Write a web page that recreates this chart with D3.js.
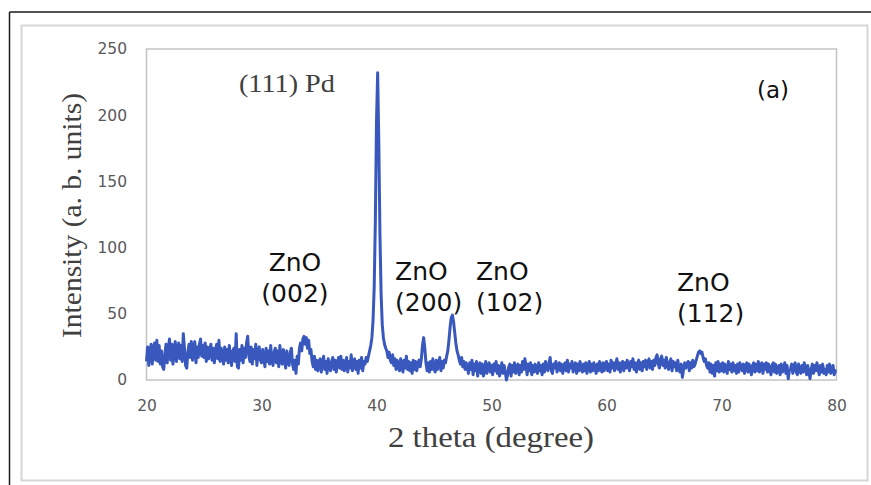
<!DOCTYPE html>
<html>
<head>
<meta charset="utf-8">
<script src="https://cdn.jsdelivr.net/npm/d3@7"></script>
<style>
  html, body { margin: 0; padding: 0; background: #fff; }
  svg { display: block; }
</style>
</head>
<body>
<svg id="chart" width="871" height="485"></svg>
<script>
// XRD scan: 2θ from 20° to 80° in 0.1° steps
const thetaStart = 20;
const thetaStep = 0.1;
const intensity = [
  14, 25, 11, 21, 27, 12, 23, 28, 15, 30,
  14, 26, 12, 22, 10, 8, 20, 27, 13, 24,
  31, 15, 27, 12, 24, 29, 14, 22, 28, 16,
  26, 14, 35, 24, 11, 9, 21, 27, 17, 29,
  15, 24, 29, 13, 25, 17, 27, 31, 18, 26,
  17, 28, 14, 25, 16, 23, 27, 15, 24, 13,
  23, 27, 16, 30, 14, 24, 18, 12, 25, 15,
  23, 13, 26, 17, 11, 22, 24, 14, 35, 10,
  9, 23, 15, 26, 13, 24, 17, 28, 33, 18,
  14, 25, 12, 23, 16, 27, 11, 22, 25, 15,
  13, 23, 17, 10, 24, 14, 22, 12, 26, 15,
  11, 21, 24, 13, 22, 10, 26, 14, 12, 23,
  16, 9, 22, 13, 11, 21, 24, 12, 8, 15,
  5, 18, 12, 24, 28, 22, 31, 33, 27, 32,
  24, 30, 20, 23, 14, 10, 18, 8, 15, 7,
  14, 16, 6, 13, 18, 8, 14, 5, 16, 10,
  7, 14, 17, 8, 15, 6, 13, 17, 9, 18,
  8, 15, 7, 13, 17, 6, 14, 9, 19, 7,
  13, 16, 8, 14, 5, 15, 9, 17, 7, 14,
  12, 17, 14, 18, 22, 26, 32, 45, 70, 120,
  195, 232, 180, 110, 65, 42, 32, 27, 24, 22,
  17, 21, 15, 13, 19, 11, 16, 8, 15, 10,
  7, 16, 11, 6, 15, 9, 18, 8, 14, 7,
  13, 5, 15, 8, 14, 7, 12, 15, 10, 16,
  26, 32, 24, 13, 7, 13, 6, 14, 8, 16,
  9, 6, 15, 8, 13, 17, 7, 14, 9, 15,
  13, 18, 22, 30, 40, 47, 49, 44, 36, 28,
  22, 19, 15, 12, 17, 10, 14, 8, 13, 9,
  5, 13, 8, 15, 4, 12, 7, 14, 3, 11,
  13, 5, 12, 3, 8, 14, 5, 11, 13, 6,
  11, 4, 12, 7, 14, 5, 11, 3, 8, 13,
  5, 11, 6, 0, 4, 10, 12, 3, 11, 6,
  13, 5, 10, 12, 4, 11, 6, 14, 8, 16,
  11, 4, 12, 7, 13, 4, 11, 6, 12, 7,
  5, 13, 7, 11, 4, 12, 6, 14, 9, 7,
  13, 17, 7, 5, 12, 9, 14, 6, 11, 13,
  7, 12, 5, 11, 13, 7, 15, 6, 12, 9,
  14, 6, 11, 13, 5, 12, 7, 14, 9, 6,
  12, 7, 13, 5, 11, 14, 6, 12, 7, 13,
  9, 5, 12, 7, 14, 9, 6, 13, 7, 12,
  14, 7, 12, 6, 15, 9, 13, 7, 12, 16,
  8, 13, 6, 12, 14, 7, 13, 9, 15, 10,
  7, 14, 10, 16, 8, 13, 6, 12, 15, 8,
  13, 7, 14, 10, 15, 8, 13, 16, 9, 14,
  8, 15, 11, 17, 19, 12, 9, 16, 18, 11,
  15, 9, 17, 12, 8, 13, 16, 7, 14, 10,
  13, 7, 15, 8, 6, 12, 2, 8, 13, 9,
  12, 14, 7, 13, 9, 15, 10, 12, 15, 18,
  21, 22, 20, 21, 17, 14, 16, 11, 9, 13,
  6, 12, 5, 11, 3, 13, 7, 14, 6, 12,
  7, 13, 6, 12, 9, 5, 14, 8, 12, 6,
  13, 7, 11, 5, 12, 6, 13, 9, 7, 12,
  5, 11, 13, 6, 12, 8, 4, 11, 13, 6,
  12, 7, 14, 6, 11, 13, 5, 12, 8, 13,
  6, 12, 8, 4, 11, 13, 6, 12, 5, 9,
  11, 4, 12, 6, 8, 13, 5, 11, 1, 7,
  8, 12, 5, 11, 13, 6, 4, 12, 8, 5,
  11, 6, 13, 8, 4, 11, 6, 1, 8, 12,
  5, 11, 7, 13, 8, 4, 11, 6, 12, 5,
  8, 4, 11, 6, 12, 5, 8, 11, 4, 7,
  7
];

const xTicks = [20, 30, 40, 50, 60, 70, 80];
const yTicks = [0, 50, 100, 150, 200, 250];

// Reflection labels, anchored in data coordinates (2θ, intensity)
const reflectionLines = [["ZnO", "(002)"], ["ZnO", "(200)"], ["ZnO", "(102)"], ["ZnO", "(112)"]];
const reflectionTheta = [32.91, 41.61, 48.65, 66.13];
const reflectionLevel = [82.3, 75.5, 75.5, 67.2];
const reflectionAnchor = ["middle", "start", "start", "start"];

const xTitle = "2 theta (degree)";
const yTitle = "Intensity (a. b. units)";
const peakTitle = "(111) Pd";
const panelTag = "(a)";

const svg = d3.select("#chart");

// page frame
svg.append("line").attr("x1", 9.5).attr("y1", 12).attr("x2", 871).attr("y2", 12)
  .attr("stroke", "#1a1a1a").attr("stroke-width", 1.5);
svg.append("line").attr("x1", 9.5).attr("y1", 12).attr("x2", 9.5).attr("y2", 485)
  .attr("stroke", "#1a1a1a").attr("stroke-width", 1.5);
svg.append("rect").attr("x", 21.5).attr("y", 25.5).attr("width", 846).attr("height", 455)
  .attr("fill", "none").attr("stroke", "#d6d6d6").attr("stroke-width", 2);

const plot = { left: 146.5, right: 836.5, top: 49, bottom: 380 };

const x = d3.scaleLinear().domain([20, 80]).range([plot.left, plot.right]);
const y = d3.scaleLinear().domain([0, 250]).range([plot.bottom, plot.top]);

// plot area border
svg.append("rect")
  .attr("x", plot.left).attr("y", plot.top)
  .attr("width", plot.right - plot.left).attr("height", plot.bottom - plot.top)
  .attr("fill", "none").attr("stroke", "#c4c4c4").attr("stroke-width", 1.5);

// axes (labels only)
const xAxis = svg.append("g")
  .attr("transform", `translate(0,${plot.bottom})`)
  .call(d3.axisBottom(x).tickValues(xTicks).tickSize(0).tickPadding(20).tickFormat(d3.format("d")));
const yAxis = svg.append("g")
  .attr("transform", `translate(${plot.left},0)`)
  .call(d3.axisLeft(y).tickValues(yTicks).tickSize(0).tickPadding(19.5).tickFormat(d3.format("d")));
[xAxis, yAxis].forEach(a => {
  a.select(".domain").remove();
  a.selectAll("text")
    .attr("font-family", "'DejaVu Sans', sans-serif")
    .attr("font-size", 15.5)
    .attr("fill", "#595959");
});

// diffraction pattern
const points = intensity.map((v, i) => [thetaStart + i * thetaStep, v]);
const line = d3.line().x(d => x(d[0])).y(d => y(d[1]));
svg.append("path")
  .datum(points)
  .attr("d", line)
  .attr("fill", "none")
  .attr("stroke", "#3858bd")
  .attr("stroke-width", 3)
  .attr("stroke-linejoin", "round");

// axis titles
svg.append("text")
  .attr("x", 491).attr("y", 447)
  .attr("text-anchor", "middle")
  .attr("font-family", "'Liberation Serif', 'Times New Roman', serif")
  .attr("font-size", 29)
  .attr("fill", "#404040")
  .attr("textLength", 206).attr("lengthAdjust", "spacingAndGlyphs")
  .text(xTitle);

svg.append("text")
  .attr("transform", "translate(81,215.5) rotate(-90)")
  .attr("text-anchor", "middle")
  .attr("font-family", "'Liberation Serif', 'Times New Roman', serif")
  .attr("font-size", 28)
  .attr("fill", "#404040")
  .attr("textLength", 245).attr("lengthAdjust", "spacingAndGlyphs")
  .text(yTitle);

// main peak label and panel tag
svg.append("text")
  .attr("x", x(28.04)).attr("y", y(217.5))
  .attr("font-family", "'Liberation Serif', 'Times New Roman', serif")
  .attr("font-size", 26)
  .attr("fill", "#404040")
  .attr("textLength", 96).attr("lengthAdjust", "spacingAndGlyphs")
  .text(peakTitle);

svg.append("text")
  .attr("x", x(73.09)).attr("y", y(213))
  .attr("font-family", "'DejaVu Sans', sans-serif")
  .attr("font-size", 23)
  .attr("fill", "#111")
  .text(panelTag);

// ZnO reflection labels
reflectionLines.forEach((lines, i) => {
  const t = svg.append("text")
    .attr("x", x(reflectionTheta[i])).attr("y", y(reflectionLevel[i]))
    .attr("text-anchor", reflectionAnchor[i])
    .attr("font-family", "'DejaVu Sans', sans-serif")
    .attr("font-size", 25)
    .attr("fill", "#111");
  lines.forEach((s, j) => {
    t.append("tspan")
      .attr("x", x(reflectionTheta[i]))
      .attr("dy", j === 0 ? 0 : 31)
      .text(s);
  });
});
</script>
</body>
</html>
